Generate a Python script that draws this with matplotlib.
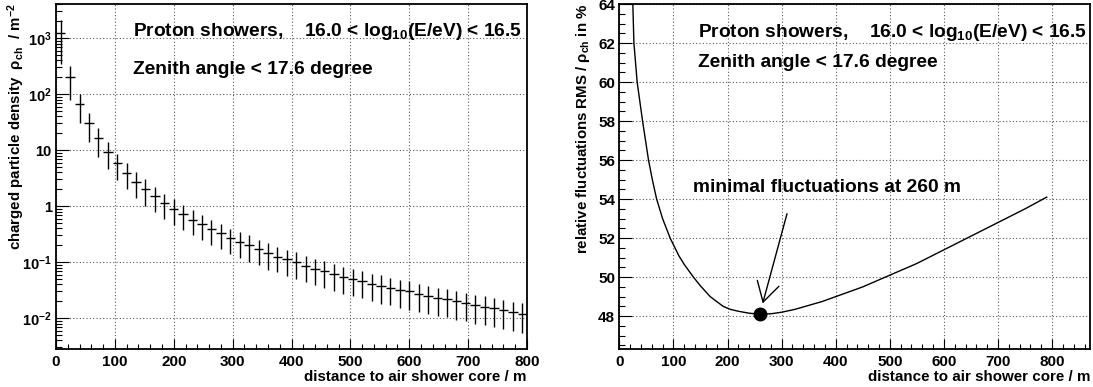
import numpy as np
import matplotlib
matplotlib.use("Agg")
import matplotlib.pyplot as plt
from matplotlib.ticker import MultipleLocator, LogLocator, FixedLocator, FixedFormatter, NullFormatter

# font in stile ROOT (Helvetica bold)
plt.rcParams['font.family'] = ['Liberation Sans', 'DejaVu Sans']
plt.rcParams['font.weight'] = 'bold'
plt.rcParams['mathtext.fontset'] = 'custom'
plt.rcParams['mathtext.rm'] = 'Liberation Sans:bold'
plt.rcParams['mathtext.it'] = 'Liberation Sans:bold'
plt.rcParams['mathtext.bf'] = 'Liberation Sans:bold'
plt.rcParams['mathtext.default'] = 'rm'

# pannello sinistro: densita' di particelle cariche per bin di distanza
distance = np.arange(8, 800, 16)  # centri dei bin (larghezza 16 m)
density = [1230, 200, 66, 30, 16.3, 9.4, 5.8, 3.9, 2.7, 2.0,
           1.5, 1.13, 0.89, 0.72, 0.57, 0.48, 0.385, 0.33, 0.265, 0.23,
           0.20, 0.17, 0.148, 0.126, 0.112, 0.100, 0.087, 0.077, 0.070, 0.061,
           0.055, 0.051, 0.047, 0.041, 0.038, 0.035, 0.032, 0.030, 0.027, 0.025,
           0.023, 0.022, 0.020, 0.0187, 0.017, 0.016, 0.015, 0.0139, 0.0129, 0.012]
density_err = [880, 120, 36, 16, 8.7, 4.8, 2.9, 1.9, 1.3, 1.0,
               0.7, 0.55, 0.43, 0.35, 0.27, 0.23, 0.18, 0.16, 0.125, 0.11,
               0.10, 0.08, 0.074, 0.06, 0.055, 0.049, 0.043, 0.038, 0.035, 0.031,
               0.028, 0.026, 0.024, 0.021, 0.020, 0.018, 0.017, 0.016, 0.014, 0.013,
               0.012, 0.0117, 0.0106, 0.0099, 0.009, 0.0085, 0.0080, 0.0074, 0.0069, 0.0065]
bin_half_width = 8

log_ticks = [1e-2, 1e-1, 1, 10, 1e2, 1e3]
log_labels = ['$10^{-2}$', '$10^{-1}$', '1', '10', '$10^{2}$', '$10^{3}$']

# pannello destro: fluttuazioni relative
fluct_dist = [25, 27, 33, 43, 54, 61, 69, 80, 94, 110, 120, 137, 150, 168, 180, 192, 205, 220,
              240, 260, 280, 300, 325, 350, 375, 400, 450, 500, 550, 600, 650, 700, 750, 790]
fluct_rel = [64.0, 62.0, 60.0, 58.0, 56.0, 55.0, 54.0, 53.0, 52.0, 51.1, 50.65, 50.0, 49.55, 49.0,
             48.75, 48.5, 48.35, 48.25, 48.15, 48.1, 48.12, 48.2, 48.35, 48.55, 48.75, 49.0,
             49.5, 50.1, 50.7, 51.4, 52.1, 52.8, 53.5, 54.1]
min_dist = 260
min_val = 48.1

title1 = 'Proton showers,    16.0 < log$_{10}$(E/eV) < 16.5'
title2 = 'Zenith angle < 17.6 degree'
xlabel = 'distance to air shower core / m'

fig = plt.figure(figsize=(10.93, 3.87), dpi=100)
ax1 = fig.add_axes([56/1093, 1-349/387, 471/1093, 345/387])
ax2 = fig.add_axes([619.3/1093, 1-349.3/387, 470.7/1093, 345.3/387])


def stile_assi(ax):
    for s in ax.spines.values():
        s.set_linewidth(1.3)
    ax.grid(True, which='major', color='0.35', linestyle=(0, (1, 2)), linewidth=0.8)
    ax.set_axisbelow(True)
    ax.tick_params(which='both', direction='in', top=False, right=False,
                   labelsize=11, width=0.8, pad=3)
    ax.tick_params(axis='x', which='major', length=7.5, pad=4)
    ax.tick_params(axis='x', which='minor', length=3.75)
    ax.tick_params(axis='y', which='major', length=9)
    ax.tick_params(axis='y', which='minor', length=4.5)
    ax.xaxis.set_major_locator(MultipleLocator(100))
    ax.xaxis.set_minor_locator(MultipleLocator(20))


# pannello sinistro
ax1.errorbar(distance, density, xerr=bin_half_width, yerr=density_err, fmt='none',
             ecolor='black', elinewidth=1.0, capsize=0)
ax1.set_yscale('log')
ax1.set_xlim(0, 800)
ax1.set_ylim(10**-2.55, 10**3.61)
stile_assi(ax1)
ax1.tick_params(axis='y', labelsize=10.5)
ax1.yaxis.set_major_locator(FixedLocator(log_ticks))
ax1.yaxis.set_major_formatter(FixedFormatter(log_labels))
ax1.yaxis.set_minor_locator(LogLocator(base=10, subs=np.arange(2, 10)))
ax1.yaxis.set_minor_formatter(NullFormatter())
ax1.text(0.163, 0.919, title1, transform=ax1.transAxes, fontsize=13.8,
         fontweight='bold', va='center', ha='left')
ax1.text(0.163, 0.809, title2, transform=ax1.transAxes, fontsize=13.8,
         fontweight='bold', va='center', ha='left')

# pannello destro
ax2.plot(fluct_dist, fluct_rel, color='black', lw=1.0)
ax2.plot([min_dist], [min_val], 'o', color='black', markersize=9)
ax2.set_xlim(0, 870)
ax2.set_ylim(46.3, 64.0)
stile_assi(ax2)
ax2.yaxis.set_major_locator(MultipleLocator(2))
ax2.yaxis.set_minor_locator(MultipleLocator(0.5))
ax2.text(0.167, 0.917, title1, transform=ax2.transAxes, fontsize=13.8,
         fontweight='bold', va='center', ha='left')
ax2.text(0.167, 0.832, title2, transform=ax2.transAxes, fontsize=13.8,
         fontweight='bold', va='center', ha='left')
ax2.text(0.157, 0.470, 'minimal fluctuations at 260 m', transform=ax2.transAxes,
         fontsize=13.8, fontweight='bold', va='center', ha='left')
ax2.annotate('', xy=(265, 48.65), xytext=(310, 53.25),
             arrowprops=dict(arrowstyle='->, head_length=0.4, head_width=0.23',
                             color='black', lw=1.0, mutation_scale=35,
                             shrinkA=0, shrinkB=0))

# etichette degli assi
fig.text(527/1093, 1-377/387, xlabel, fontsize=10.9, fontweight='bold', ha='right', va='center')
fig.text(1090/1093, 1-377/387, xlabel, fontsize=10.9, fontweight='bold', ha='right', va='center')
fig.text(16/1093, 1-3/387, 'charged particle density  ρ$_{ch}$  / m$^{-2}$',
         rotation=90, fontsize=10.8, fontweight='bold', ha='center', va='top')
fig.text(583/1093, 1-4/387, 'relative fluctuations RMS / ρ$_{ch}$ in %',
         rotation=90, fontsize=10.8, fontweight='bold', ha='center', va='top')

# etichette dei tick in grassetto
fig.canvas.draw()
for ax in (ax1, ax2):
    plt.setp(ax.get_xticklabels() + ax.get_yticklabels(), fontweight='bold')

fig.savefig('out.png', dpi=100)
